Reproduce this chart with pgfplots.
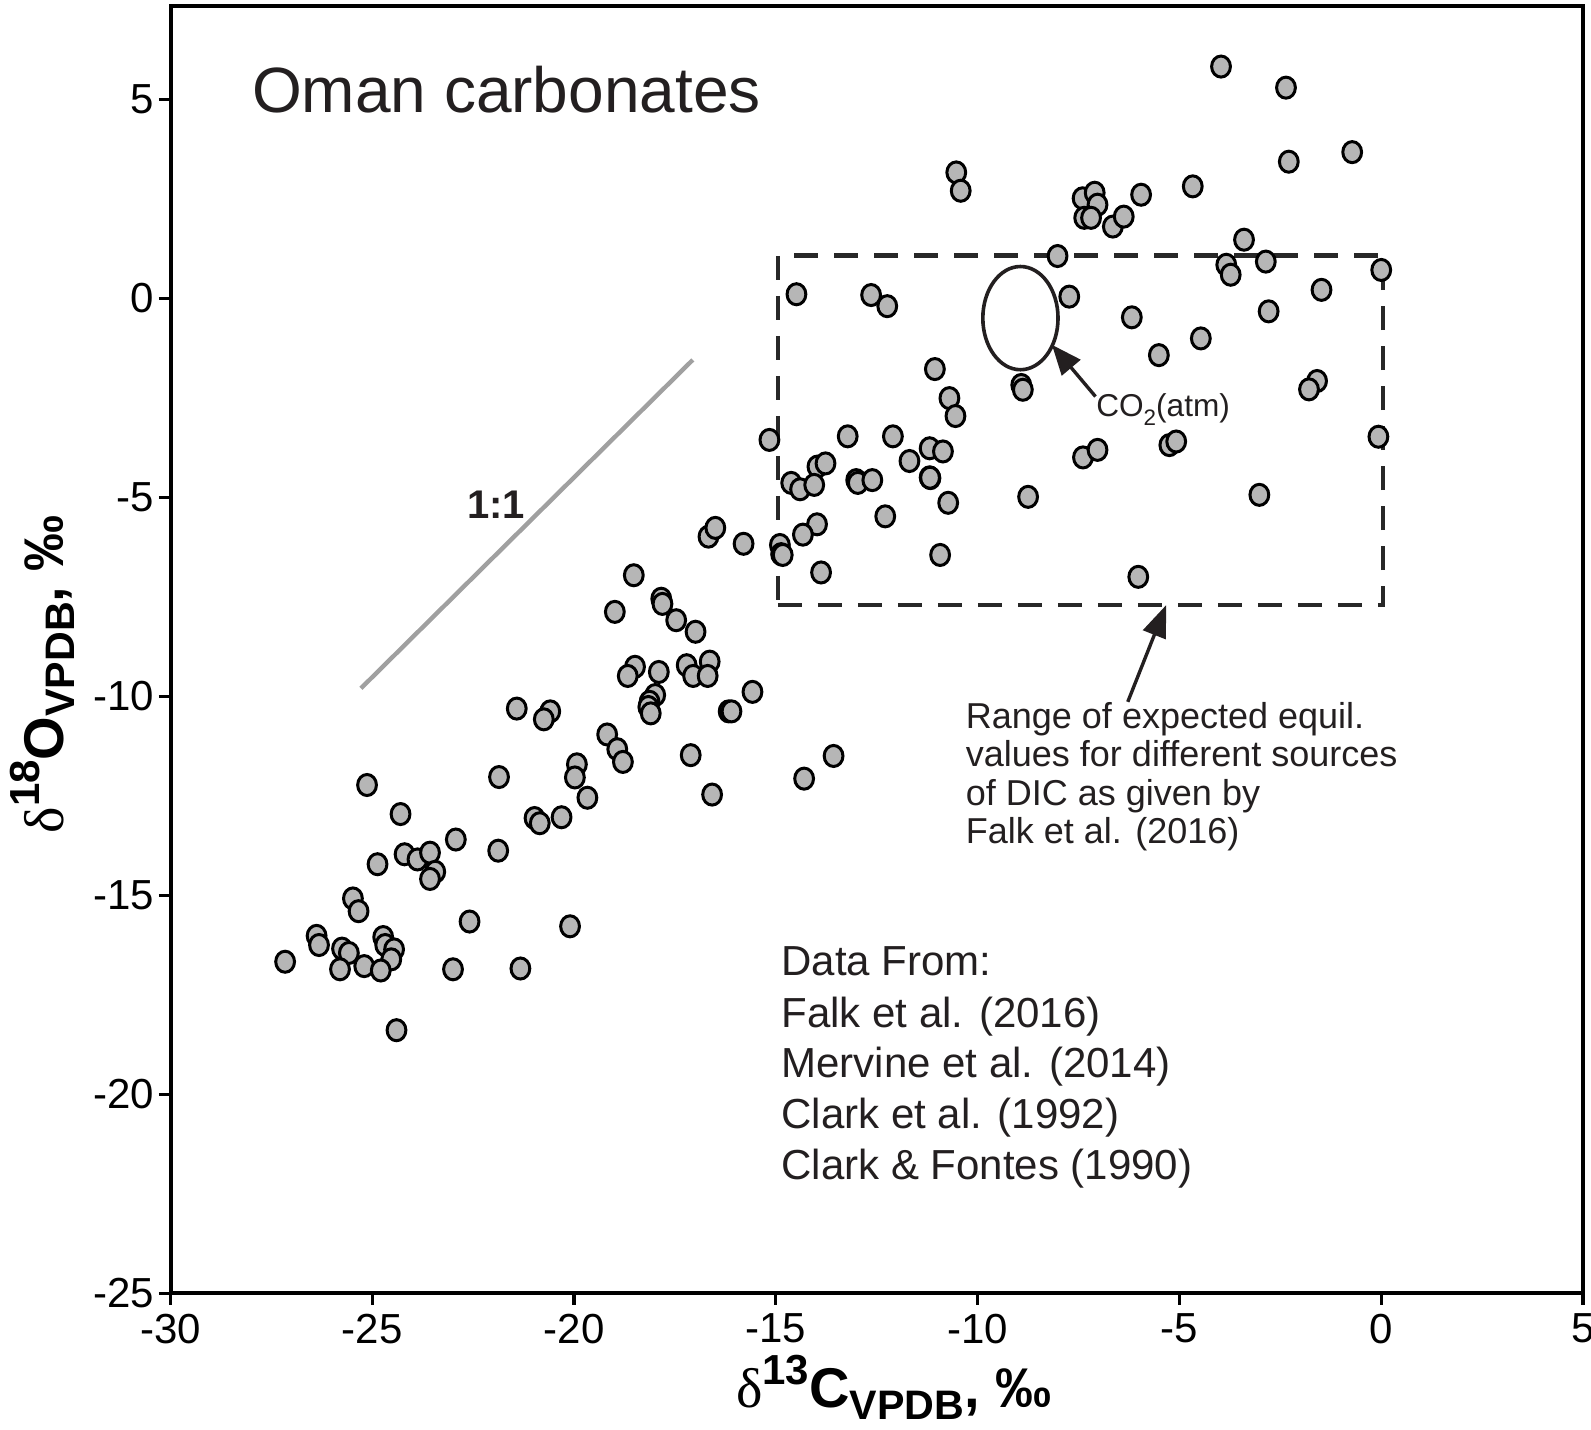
\documentclass[border=0pt]{standalone}
\usepackage{pgfplots}
\pgfplotsset{compat=1.18}
\usepackage{fontspec}
\setmainfont{Liberation Sans}
\newfontfamily\greekserif{Liberation Serif}
\usetikzlibrary{arrows.meta}
\definecolor{mfill}{RGB}{182,182,182}
\definecolor{ink}{RGB}{35,31,32}
\definecolor{oneone}{RGB}{160,160,160}
\definecolor{boxc}{RGB}{40,40,40}

\pgfplotstableread{
x y
-3.97 5.82
-2.36 5.29
-2.29 3.43
-0.72 3.67
-10.53 3.16
-10.42 2.70
-4.67 2.81
-5.95 2.60
-7.40 2.51
-7.10 2.65
-7.03 2.35
-7.36 2.02
-7.19 2.02
-6.65 1.80
-6.38 2.05
-8.02 1.06
-3.40 1.47
-3.84 0.84
-3.73 0.59
-2.86 0.92
-7.73 0.04
0.00 0.71
-14.49 0.10
-12.64 0.08
-12.24 -0.20
-1.48 0.21
-2.79 -0.33
-6.18 -0.48
-4.47 -1.01
-5.51 -1.43
-11.06 -1.78
-8.92 -2.18
-8.88 -2.30
-1.59 -2.08
-1.79 -2.29
-10.70 -2.51
-10.55 -2.96
-13.22 -3.47
-15.16 -3.56
-12.10 -3.47
-0.07 -3.48
-5.25 -3.69
-5.08 -3.60
-7.39 -4.00
-7.03 -3.81
-11.19 -3.77
-10.86 -3.85
-11.69 -4.09
-13.97 -4.23
-13.77 -4.15
-14.62 -4.64
-14.40 -4.80
-14.05 -4.69
-13.01 -4.57
-12.97 -4.64
-12.61 -4.57
-11.19 -4.50
-11.17 -4.52
-11.18 -4.51
-3.02 -4.94
-8.75 -4.99
-10.73 -5.14
-12.29 -5.48
-13.98 -5.68
-14.33 -5.94
-16.67 -5.99
-16.50 -5.77
-15.80 -6.17
-14.90 -6.20
-14.87 -6.43
-14.83 -6.45
-10.93 -6.45
-13.88 -6.89
-6.02 -7.00
-18.52 -6.96
-18.99 -7.88
-17.84 -7.55
-17.81 -7.68
-17.47 -8.09
-16.99 -8.38
-18.49 -9.26
-18.67 -9.49
-17.90 -9.39
-17.21 -9.22
-17.05 -9.49
-16.64 -9.13
-16.69 -9.49
-17.99 -9.97
-18.13 -10.14
-18.16 -10.27
-18.10 -10.43
-16.17 -10.38
-16.10 -10.38
-15.58 -9.89
-21.42 -10.31
-20.59 -10.38
-20.75 -10.58
-19.18 -10.96
-18.93 -11.33
-18.79 -11.65
-17.11 -11.48
-13.57 -11.50
-14.30 -12.07
-16.58 -12.47
-25.13 -12.23
-19.93 -11.71
-19.98 -12.04
-19.67 -12.55
-21.86 -12.03
-20.98 -13.06
-20.85 -13.19
-20.31 -13.04
-24.30 -12.96
-22.93 -13.60
-21.88 -13.88
-24.87 -14.22
-24.20 -13.97
-23.88 -14.10
-23.57 -13.93
-23.44 -14.41
-23.57 -14.59
-25.48 -15.08
-25.34 -15.40
-22.59 -15.66
-20.10 -15.78
-26.38 -16.02
-26.32 -16.25
-25.75 -16.34
-25.58 -16.45
-24.73 -16.05
-24.68 -16.25
-24.46 -16.36
-24.53 -16.61
-25.20 -16.78
-27.16 -16.67
-25.80 -16.86
-24.79 -16.89
-23.00 -16.86
-21.33 -16.84
-24.40 -18.39
}\carbdata

\begin{document}
\begin{tikzpicture}
\useasboundingbox (-42.625pt,-34.175pt) rectangle (355.125pt,323.325pt);
\begin{axis}[
  scale only axis,
  width=353.125pt, height=321.8pt,
  xmin=-30, xmax=5, ymin=-25, ymax=7.34,
  xtick={-30,-25,-20,-15,-10,-5,0,5},
  ytick={-25,-20,-15,-10,-5,0,5},
  xtick pos=bottom, ytick pos=left,
  tick align=outside, major tick length=2.9pt,
  tick style={line width=0.8pt, color=black},
  axis line style={line width=1pt, color=black},
  /pgf/number format/assume math mode=true,
  tick label style={font=\fontsize{10.5}{12}\selectfont, inner sep=1pt, text=black},
  xticklabel style={yshift=-1pt},
  xlabel={\fontsize{14}{16}\selectfont\bfseries{\greekserif\mdseries δ}\raisebox{0.42em}{\fontsize{10.5}{12}\selectfont 13}C\raisebox{-0.21em}{\fontsize{10.3}{12}\selectfont VPDB}, ‰},
  ylabel={\fontsize{14}{16}\selectfont\bfseries{\greekserif\mdseries δ}\raisebox{0.42em}{\fontsize{10.5}{12}\selectfont 18}O\raisebox{-0.21em}{\fontsize{10.3}{12}\selectfont VPDB}, ‰},
  xlabel style={at={(axis description cs:0.512,-0.089)}, anchor=base, inner sep=0pt, text=black},
  ylabel style={at={(axis description cs:-0.0761,0.481)}, anchor=base, inner sep=0pt, text=black},
  clip=false,
]
% data points
\addplot[only marks, mark=*, mark size=2.35pt,
  mark options={fill=mfill, draw=black, line width=0.75pt, yscale=1.12}]
  table[x=x, y=y] {\carbdata};
% expected equilibrium range box
\addplot[no marks, color=boxc, line width=1.1pt, dash pattern=on 6pt off 4pt]
  coordinates {(-14.95,-7.7) (0.05,-7.7) (0.05,1.07) (-14.95,1.07) (-14.95,-7.7)};
% 1:1 line
\addplot[no marks, color=oneone, line width=1.1pt]
  coordinates {(-25.28,-9.80) (-17.06,-1.55)};
% CO2(atm) ellipse
\draw[color=ink, line width=0.9pt] (axis cs:-8.94,-0.50) ellipse [x radius=9.4pt, y radius=12.9pt];
% arrows
\draw[color=ink, line width=0.85pt, -{Triangle[length=7.5pt,width=6pt]}]
  (axis cs:-7.08,-2.47) -- (axis cs:-8.16,-1.17);
\draw[color=ink, line width=0.85pt, -{Triangle[length=8pt,width=6pt]}]
  (axis cs:-6.28,-10.14) -- (axis cs:-5.33,-7.71);
% texts
\node[anchor=base west, inner sep=0pt, text=ink, font=\fontsize{16}{18}\selectfont]
  at (axis cs:-28.0,4.67) {Oman carbonates};
\node[anchor=base, inner sep=0pt, text=ink, font=\fontsize{10}{12}\selectfont\bfseries]
  at (axis cs:-21.93,-5.53) {1:1};
\node[anchor=base west, inner sep=0pt, text=ink, font=\fontsize{7.9}{9}\selectfont]
  at (axis cs:-7.08,-2.96) {CO\raisebox{-0.3em}{\fontsize{5.6}{6}\selectfont 2}(atm)};
\node[anchor=base west, inner sep=0pt, text=ink, font=\fontsize{9}{10}\selectfont]
  at (axis cs:-10.31,-10.81) {Range of expected equil.};
\node[anchor=base west, inner sep=0pt, text=ink, font=\fontsize{9}{10}\selectfont]
  at (axis cs:-10.31,-11.77) {values for different sources};
\node[anchor=base west, inner sep=0pt, text=ink, font=\fontsize{9}{10}\selectfont]
  at (axis cs:-10.31,-12.74) {of DIC as given by};
\node[anchor=base west, inner sep=0pt, text=ink, font=\fontsize{9}{10}\selectfont]
  at (axis cs:-10.31,-13.70) {Falk et al. (2016)};
\node[anchor=base west, inner sep=0pt, text=ink, font=\fontsize{10.5}{12}\selectfont]
  at (axis cs:-14.88,-17.01) {Data From:};
\node[anchor=base west, inner sep=0pt, text=ink, font=\fontsize{10.5}{12}\selectfont]
  at (axis cs:-14.88,-18.31) {Falk et al. (2016)};
\node[anchor=base west, inner sep=0pt, text=ink, font=\fontsize{10.5}{12}\selectfont]
  at (axis cs:-14.88,-19.57) {Mervine et al. (2014)};
\node[anchor=base west, inner sep=0pt, text=ink, font=\fontsize{10.5}{12}\selectfont]
  at (axis cs:-14.88,-20.86) {Clark et al. (1992)};
\node[anchor=base west, inner sep=0pt, text=ink, font=\fontsize{10.5}{12}\selectfont]
  at (axis cs:-14.88,-22.15) {Clark \& Fontes (1990)};
\end{axis}
\end{tikzpicture}
\end{document}
